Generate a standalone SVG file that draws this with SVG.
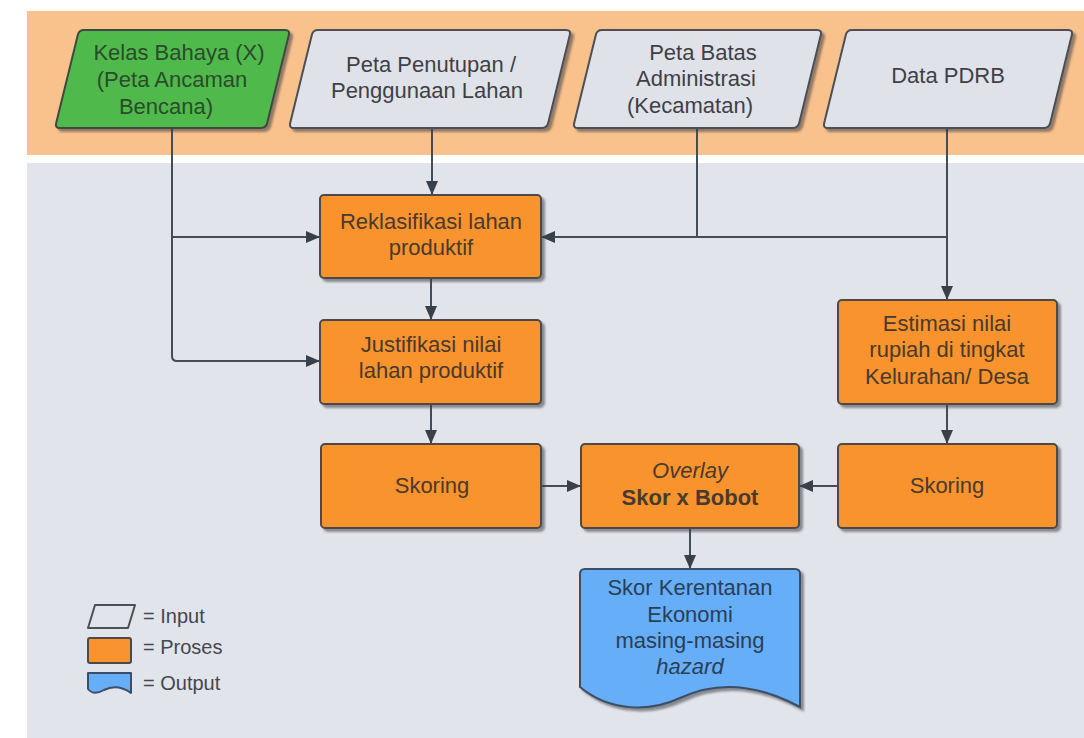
<svg xmlns="http://www.w3.org/2000/svg" width="1084" height="738" viewBox="0 0 1084 738">
<style>
  text { font-family: "Liberation Sans", Arial, sans-serif; font-size: 22px; text-anchor: middle; }
  .inp { fill: #dfe2e8; stroke: #4b4f57; stroke-width: 2; }
  .haz { fill: #4fba4c; stroke: #3f4a3f; stroke-width: 2; }
  .proc { fill: #f8932f; stroke: #4d4a47; stroke-width: 2; }
  .out { fill: #66aef7; stroke: #3c4f66; stroke-width: 2; }
  .t-inp { fill: #3f4046; }
  .t-haz { fill: #2c4a2c; }
  .t-proc { fill: #4a3a2c; }
  .t-out { fill: #2b3e58; }
  .conn { fill: none; stroke: #464c56; stroke-width: 2; }
  .leg { font-size: 20px; text-anchor: start; fill: #45474c; }
</style>
<defs>
  <marker id="arr" markerUnits="userSpaceOnUse" markerWidth="14" markerHeight="12" refX="14" refY="6" orient="auto">
    <path d="M0,0 L14,6 L0,12 Z" fill="#3a404a"/>
  </marker>
  <filter id="sh" x="-10%" y="-10%" width="125%" height="130%">
    <feDropShadow dx="3" dy="3" stdDeviation="1.2" flood-color="#3c4048" flood-opacity="0.55"/>
  </filter>
</defs>

<rect x="0" y="0" width="1084" height="738" fill="#ffffff"/>
<rect x="27" y="11" width="1057" height="144" fill="#f9c18c"/>
<rect x="27" y="163" width="1057" height="575" fill="#e1e4ea"/>

<g id="connectors">
  <path class="conn" d="M172,128 V356 Q172,361 177,361 H320" marker-end="url(#arr)"/>
  <path class="conn" d="M172,237 H320" marker-end="url(#arr)"/>
  <path class="conn" d="M432,128 V195" marker-end="url(#arr)"/>
  <path class="conn" d="M697,128 V237"/>
  <path class="conn" d="M947,128 V300" marker-end="url(#arr)"/>
  <path class="conn" d="M947,237 H541" marker-end="url(#arr)"/>
  <path class="conn" d="M431,278 V320" marker-end="url(#arr)"/>
  <path class="conn" d="M431,404 V444" marker-end="url(#arr)"/>
  <path class="conn" d="M947,404 V444" marker-end="url(#arr)"/>
  <path class="conn" d="M541,486 H581" marker-end="url(#arr)"/>
  <path class="conn" d="M838,486 H799" marker-end="url(#arr)"/>
  <path class="conn" d="M690,528 V569" marker-end="url(#arr)"/>
</g>

<g id="kelas-bahaya">
  <path class="haz" filter="url(#sh)" d="M84,30 L285,30 Q290,30 288.8,34.9 L267.2,123.1 Q266,128 261,128 L60,128 Q55,128 56.2,123.1 L77.8,34.9 Q79,30 84,30 Z"/>
  <text class="t-haz" x="179" y="60">Kelas Bahaya (X)</text>
  <text class="t-haz" x="172" y="87">(Peta Ancaman</text>
  <text class="t-haz" x="166" y="114">Bencana)</text>
</g>

<g id="peta-penutupan">
  <path class="inp" filter="url(#sh)" d="M318,30 L566,30 Q571,30 569.8,34.9 L548.2,123.1 Q547,128 542,128 L294,128 Q289,128 290.2,123.1 L311.8,34.9 Q313,30 318,30 Z"/>
  <text class="t-inp" x="431" y="72">Peta Penutupan /</text>
  <text class="t-inp" x="427" y="98">Penggunaan Lahan</text>
</g>

<g id="peta-batas">
  <path class="inp" filter="url(#sh)" d="M602,30 L817,30 Q822,30 820.8,34.9 L799.2,123.1 Q798,128 793,128 L578,128 Q573,128 574.2,123.1 L595.8,34.9 Q597,30 602,30 Z"/>
  <text class="t-inp" x="703" y="60">Peta Batas</text>
  <text class="t-inp" x="696" y="86">Administrasi</text>
  <text class="t-inp" x="690" y="113">(Kecamatan)</text>
</g>

<g id="data-pdrb">
  <path class="inp" filter="url(#sh)" d="M852,30 L1068,30 Q1073,30 1071.8,34.9 L1050.2,123.1 Q1049,128 1044,128 L828,128 Q823,128 824.2,123.1 L845.8,34.9 Q847,30 852,30 Z"/>
  <text class="t-inp" x="948" y="83">Data PDRB</text>
</g>

<g id="reklasifikasi">
  <rect class="proc" filter="url(#sh)" x="320" y="195" width="221" height="83" rx="4"/>
  <text class="t-proc" x="431" y="229">Reklasifikasi lahan</text>
  <text class="t-proc" x="431" y="255">produktif</text>
</g>

<g id="justifikasi">
  <rect class="proc" filter="url(#sh)" x="320" y="320" width="221" height="84" rx="4"/>
  <text class="t-proc" x="431" y="352">Justifikasi nilai</text>
  <text class="t-proc" x="431" y="378">lahan produktif</text>
</g>

<g id="estimasi">
  <rect class="proc" filter="url(#sh)" x="838" y="300" width="219" height="104" rx="4"/>
  <text class="t-proc" x="947" y="331">Estimasi nilai</text>
  <text class="t-proc" x="947" y="357">rupiah di tingkat</text>
  <text class="t-proc" x="947" y="384">Kelurahan/ Desa</text>
</g>

<g id="skoring-kiri">
  <rect class="proc" filter="url(#sh)" x="321" y="444" width="220" height="84" rx="4"/>
  <text class="t-proc" x="432" y="493">Skoring</text>
</g>

<g id="overlay">
  <rect class="proc" filter="url(#sh)" x="581" y="444" width="218" height="84" rx="4"/>
  <text class="t-proc" x="690" y="478" font-style="italic">Overlay</text>
  <text class="t-proc" x="690" y="505" font-weight="bold">Skor x Bobot</text>
</g>

<g id="skoring-kanan">
  <rect class="proc" filter="url(#sh)" x="838" y="444" width="219" height="84" rx="4"/>
  <text class="t-proc" x="947" y="493">Skoring</text>
</g>

<g id="output">
  <path class="out" filter="url(#sh)" d="M585,569 L795,569 Q800,569 800,574 L800,707 C750,680 710,684 680,698 C650,712 610,712 580,687 L580,574 Q580,569 585,569 Z"/>
  <text class="t-out" x="690" y="595">Skor Kerentanan</text>
  <text class="t-out" x="690" y="622">Ekonomi</text>
  <text class="t-out" x="690" y="648">masing-masing</text>
  <text class="t-out" x="690" y="674" font-style="italic">hazard</text>
</g>

<g id="legend">
  <path d="M95,605 L135,605 L128,628 L88,628 Z" fill="#e1e4ea" stroke="#4b4f57" stroke-width="2" stroke-linejoin="round"/>
  <rect x="88" y="638" width="43" height="25" rx="2" fill="#f8932f" stroke="#4d4a47" stroke-width="2"/>
  <path d="M88,673 H131 V693 C121,686 112,686 104,690 C97,694 92,694 88,689 Z" fill="#66aef7" stroke="#3c4f66" stroke-width="2" stroke-linejoin="round"/>
  <text class="leg" x="143" y="623">= Input</text>
  <text class="leg" x="143" y="654">= Proses</text>
  <text class="leg" x="143" y="690">= Output</text>
</g>
</svg>
